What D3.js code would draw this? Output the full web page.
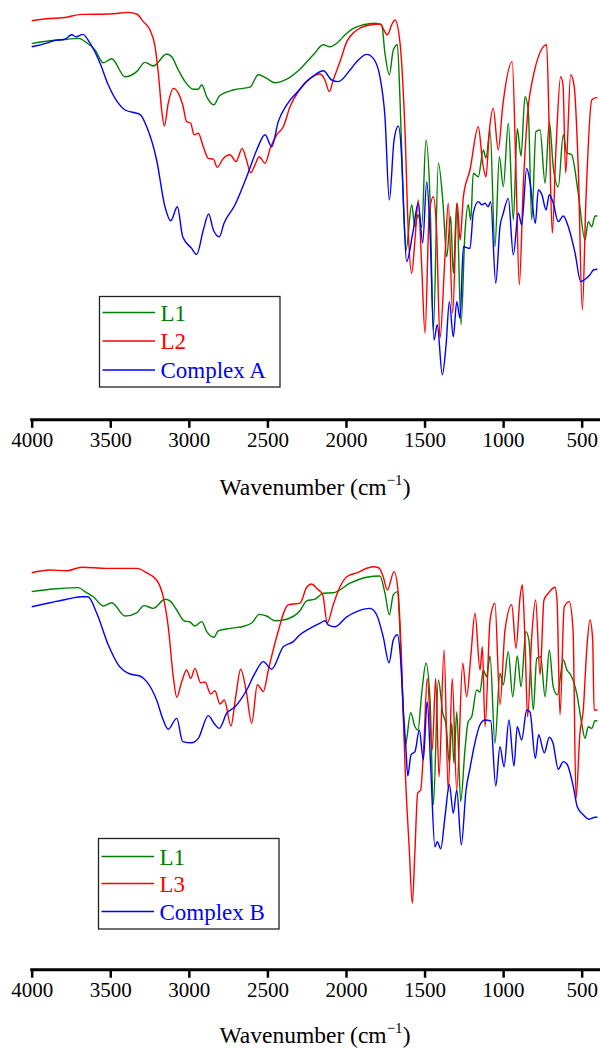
<!DOCTYPE html>
<html><head><meta charset="utf-8">
<script src="https://cdn.jsdelivr.net/npm/d3@7"></script>
<style>
html,body{margin:0;padding:0;background:#fff;}
svg{display:block;}
</style></head>
<body>
<svg id="chart" width="600" height="1049"></svg>
<script>
// ---------- DATA (wavenumber cm-1, transmittance %) ----------
const xTicks = [4000, 3500, 3000, 2500, 2000, 1500, 1000, 500];
const xLabel = "Wavenumber (cm";

const topLegend = ["L1", "L2", "Complex A"];
const bottomLegend = ["L1", "L3", "Complex B"];
const colors = ["#008000", "#ff0000", "#0000ff"];

// Top panel: L1
const topL1 = [[4000,91.6],[3884,92.3],[3777,92.7],[3703,92.9],[3650,91.8],[3597,90],[3544,86.8],[3491,87.8],[3406,83.3],[3332,84.6],[3279,86.9],[3226,86],[3141,89],[3109,88.3],[3067,85],[3024,82.1],[2972,80.2],[2940,80.2],[2918,81.3],[2886,78.3],[2840,76.3],[2806,78.5],[2717,80],[2611,80.7],[2558,83.8],[2504,82.9],[2452,81.8],[2377,82.7],[2293,85.2],[2208,88.8],[2144,91.3],[2102,90.8],[2059,91.7],[1995,94.2],[1953,95.4],[1890,96.3],[1815,96.7],[1773,96.3],[1752,89.2],[1724,83.8],[1699,90],[1673,91.3],[1656,77.5],[1635,52.5],[1618,40],[1582,51.3],[1561,45.8],[1542,48.8],[1518,45.8],[1491,67.5],[1465,52.5],[1444,20],[1412,61.7],[1381,50.8],[1359,38.3],[1334,48.3],[1317,34.2],[1295,51.7],[1268,21.3],[1243,44.2],[1222,51.3],[1206,47.5],[1190,59.2],[1158,58.3],[1126,65],[1109,63],[1083,70],[1052,40.8],[1024,63.3],[999,55.8],[967,71.7],[935,47.5],[910,70.4],[886,63.5],[861,78.3],[840,75],[818,47.5],[791,69.6],[765,70],[733,56.7],[706,72.1],[681,60.8],[649,55.8],[617,68.8],[595,64.3],[564,63.8],[522,54.2],[479,42.5],[458,47.1],[436,45.8],[415,48.5],[400,48.5]];
// Top panel: L2
const topL2 = [[4000,97.3],[3905,97.8],[3777,98.2],[3745,98.5],[3682,98.9],[3502,99],[3385,99.4],[3332,99],[3290,97.1],[3247,95],[3215,90.8],[3194,84.2],[3173,75],[3156,71],[3131,76.7],[3099,80.4],[3067,79.2],[3039,76.3],[3014,72.1],[2988,71.7],[2967,68.8],[2940,69.2],[2908,65.8],[2876,62.9],[2844,62.7],[2819,60.7],[2781,62.9],[2738,63.8],[2700,62.1],[2660,65.4],[2636,62.9],[2606,59.3],[2579,61.3],[2552,63.3],[2515,61.7],[2479,65.8],[2441,68.8],[2399,70.8],[2356,75.8],[2293,80.2],[2229,82.9],[2165,84],[2134,82.5],[2106,79.6],[2081,82.5],[2038,87.1],[1995,92.1],[1943,94.6],[1879,96],[1784,96.5],[1737,93.8],[1707,96.5],[1688,97.5],[1656,91.7],[1624,69.2],[1603,44.2],[1582,34.2],[1561,42.5],[1540,52.5],[1518,35.8],[1497,19.2],[1470,49.2],[1444,53.3],[1423,44.2],[1402,17.9],[1370,38.3],[1349,51.7],[1321,24.2],[1292,51.7],[1274,42.5],[1253,53.3],[1211,60],[1158,70.8],[1130,61.7],[1109,58.3],[1088,69.6],[1063,75.4],[1031,65],[1003,75.8],[942,87.1],[918,59.2],[897,31.3],[872,55.8],[829,79.2],[723,91.3],[706,69.2],[687,44.2],[664,65],[634,83.3],[619,81.3],[602,59.2],[570,83.8],[549,81.3],[522,60.8],[496,25],[473,52.5],[436,77.5],[409,78.1],[400,78.1]];
// Top panel: Complex A
const topCA = [[4000,90.8],[3905,91.7],[3863,92.3],[3788,92.7],[3745,93.8],[3718,93.3],[3675,93.9],[3629,91.7],[3565,86.7],[3513,81.3],[3449,76.7],[3406,75],[3311,73.9],[3268,70.8],[3205,62.5],[3152,50.8],[3115,47.3],[3073,50.8],[3039,43.3],[2982,40.4],[2950,38.9],[2908,45],[2874,49],[2844,45],[2806,43.3],[2776,46.7],[2706,51.3],[2632,58.3],[2568,65],[2515,68.8],[2473,65.8],[2431,72.1],[2377,76.3],[2293,80.2],[2250,82.1],[2197,83.8],[2144,84.8],[2091,82.5],[2049,82.1],[1974,85],[1922,87.5],[1868,88.9],[1826,87.9],[1784,83.3],[1752,73.3],[1724,52.5],[1694,67.5],[1667,71],[1645,62.5],[1631,48.3],[1614,37.1],[1575,44.2],[1540,51.7],[1512,41.8],[1486,57.1],[1465,44.2],[1440,17.5],[1419,21.3],[1387,8.8],[1363,16.3],[1342,27.1],[1317,18.3],[1295,27.1],[1274,22.9],[1253,40.8],[1211,40.4],[1190,49.2],[1158,52.1],[1134,51.3],[1115,51.7],[1096,50.8],[1079,52.1],[1047,31.7],[1020,45.8],[999,49.2],[967,52.9],[935,38.8],[903,49.2],[882,46.3],[850,60.4],[829,57],[795,46.7],[776,55],[753,53.8],[727,50],[706,53.8],[683,52],[649,47.1],[617,48.5],[585,45.8],[542,39.2],[506,32.1],[485,32.5],[447,33.8],[426,35],[400,35.2]];

// Bottom panel: L1
const botL1 = [[4000,92.1],[3884,92.7],[3703,93.1],[3661,92.1],[3608,90.8],[3544,88.5],[3491,89.3],[3406,86],[3332,86.8],[3285,88.6],[3226,87.9],[3152,90.2],[3120,89.8],[3077,87.5],[3031,84.8],[2993,84.5],[2961,83.5],[2918,84.6],[2886,82.1],[2840,80.7],[2813,82.3],[2738,82.9],[2643,83.5],[2598,84.3],[2552,86.4],[2505,86],[2452,84.8],[2377,85.2],[2293,87.3],[2250,89.8],[2197,90.2],[2144,91.7],[2081,91.8],[1974,94.2],[1868,95.7],[1784,96],[1752,91.7],[1724,86.3],[1699,91.3],[1673,92.1],[1656,81.7],[1639,65],[1624,53.3],[1588,61.8],[1561,58.3],[1542,57.5],[1518,66.7],[1491,74.2],[1465,65],[1444,38.8],[1412,70],[1384,61.7],[1363,58.8],[1342,49.2],[1327,59.2],[1313,49.2],[1295,62.1],[1270,39.6],[1243,52.5],[1222,59.6],[1200,60.8],[1168,67.5],[1147,67],[1126,72.5],[1105,70.8],[1083,76],[1052,54.2],[1020,71.7],[999,68.8],[967,77.1],[939,65.8],[910,76],[886,68.3],[855,82.1],[836,80],[808,62.5],[786,75.4],[761,75.8],[733,65.8],[706,77.5],[681,68.3],[655,66.3],[617,75],[594,72.5],[570,71.3],[532,66.7],[500,59.2],[479,55.4],[458,58.3],[436,57.9],[415,59.8],[400,59.8]];
// Bottom panel: L3
const botL3 = [[4000,96.8],[3884,97.5],[3777,97.3],[3682,98.2],[3523,97.9],[3332,97.9],[3268,96.8],[3205,95],[3163,90.8],[3131,83.3],[3099,70.8],[3077,65.7],[3045,69.6],[3014,72.5],[2988,70.4],[2961,72.9],[2925,69.3],[2897,69.5],[2861,66.5],[2834,67.3],[2802,64],[2774,65],[2732,58.5],[2702,65.8],[2670,72.7],[2636,67.5],[2600,59.2],[2564,68.8],[2526,67.1],[2494,72.5],[2441,80.8],[2367,88.8],[2293,89.2],[2250,93.2],[2218,94],[2186,92.9],[2148,91.3],[2119,84.3],[2081,88.8],[2038,93.3],[1995,95.8],[1932,96.8],[1826,98.3],[1790,98],[1763,95.8],[1737,92.5],[1694,97.1],[1667,91.7],[1645,73.3],[1624,48.3],[1597,27.5],[1578,14.2],[1561,27.5],[1544,41.7],[1525,42.5],[1504,54.2],[1483,70.4],[1451,52.5],[1429,70.4],[1408,45.8],[1376,77.5],[1349,42.1],[1324,70.4],[1295,42.5],[1257,74.2],[1232,65.8],[1206,75.8],[1179,86.7],[1147,72.5],[1132,78.3],[1115,58.3],[1083,85],[1052,89.2],[1020,63.8],[988,82.5],[945,88.8],[918,77.9],[893,90.4],[878,93.8],[861,80],[844,60.8],[818,80.8],[793,90],[765,71.3],[740,90],[712,91.7],[670,93.2],[657,90],[638,61.3],[611,88.3],[579,89.6],[555,82.5],[536,40.4],[511,56.8],[490,62.5],[468,77.5],[447,85],[430,80],[421,62.5],[400,62.5]];
// Bottom panel: Complex B
const botCB = [[4000,88.3],[3884,89.3],[3777,90.2],[3682,90.8],[3642,90.8],[3586,86.7],[3513,78.8],[3449,73.8],[3374,71.5],[3311,71],[3268,69.6],[3205,65],[3163,60],[3131,57.7],[3077,60.4],[3039,54.6],[2982,54.3],[2940,55.4],[2876,61.1],[2840,59.2],[2806,57.9],[2759,61.7],[2706,63.3],[2632,67.5],[2579,71.7],[2526,74.6],[2473,72.7],[2399,78.3],[2335,79.6],[2293,81.3],[2229,82.9],[2165,84.2],[2134,84.8],[2113,83.8],[2070,83.3],[1995,85.8],[1932,87.1],[1847,87.9],[1805,86.3],[1763,80.8],[1726,74.3],[1699,80],[1673,81.3],[1652,75],[1635,62.5],[1618,52.5],[1607,46],[1586,51.3],[1561,52.1],[1533,57.5],[1508,50],[1483,64.6],[1461,48.3],[1434,28.3],[1419,29.6],[1397,27.8],[1370,35.8],[1342,43.8],[1317,36.7],[1295,42.5],[1266,28.8],[1236,42.5],[1211,47.9],[1185,53.3],[1147,58.8],[1115,60],[1079,59.8],[1047,43.5],[1020,53.3],[994,48.3],[963,60],[931,48.5],[910,58.3],[882,55],[850,62.5],[829,62],[795,50.4],[774,56.3],[738,51.8],[706,55.7],[683,54.3],[649,47.7],[617,49.6],[594,49],[553,43.3],[528,38.3],[490,36.3],[452,35.2],[415,35.7],[400,35.7]];

// ---------- DRAWING ----------
const svg = d3.select("#chart");
const serif = "'Liberation Serif','Times New Roman',Times,serif";

const x = d3.scaleLinear().domain([4000, 400]).range([31.7, 597.4]);

const panels = [
  { series: [topL1, topL2, topCA], names: topLegend, yRange: [410, 10], axisY: 419.8, titleDy: 75, legend: { x: 99.5, y: 296.5, w: 180.5, h: 90.5, rows: [312.5, 341, 370] } },
  { series: [botL1, botL3, botCB], names: bottomLegend, yRange: [960, 560], axisY: 969.7, titleDy: 73, legend: { x: 98.5, y: 838.5, w: 180.5, h: 90.5, rows: [856.5, 883.5, 911.5] } }
];

panels.forEach(p => {
  const y = d3.scaleLinear().domain([0, 100]).range(p.yRange);
  const line = d3.line().x(d => x(d[0])).y(d => y(d[1])).curve(d3.curveMonotoneX);
  const g = svg.append("g");
  p.series.forEach((s, i) => {
    g.append("path").datum(s).attr("d", line)
      .attr("fill", "none").attr("stroke", colors[i]).attr("stroke-width", 1.4)
      .attr("stroke-linejoin", "round");
  });

  // axis
  const axis = d3.axisBottom(x).tickValues(xTicks).tickSize(8).tickSizeOuter(0).tickPadding(4).tickFormat(d3.format("d"));
  const ag = svg.append("g").attr("transform", `translate(0,${p.axisY})`).call(axis);
  ag.select(".domain").remove();
  ag.append("line").attr("x1", x(4000) - 1.5).attr("x2", 600).attr("y1", 0).attr("y2", 0)
    .attr("stroke", "#000").attr("stroke-width", 3);
  ag.selectAll(".tick line").attr("stroke", "#000").attr("stroke-width", 2.5);
  ag.selectAll(".tick text").attr("fill", "#000").style("font-family", serif).style("font-size", "21px");

  // axis title
  const t = svg.append("text").attr("x", 315).attr("y", p.axisY + p.titleDy)
    .attr("text-anchor", "middle").style("font-family", serif).style("font-size", "23.5px").attr("fill", "#000");
  t.append("tspan").text(xLabel);
  t.append("tspan").text("\u22121").attr("dy", -10).style("font-size", "15px");
  t.append("tspan").text(")").attr("dy", 10);

  // legend
  const L = p.legend;
  svg.append("rect").attr("x", L.x).attr("y", L.y).attr("width", L.w).attr("height", L.h)
    .attr("fill", "#fff").attr("stroke", "#222").attr("stroke-width", 1.3);
  p.names.forEach((n, i) => {
    svg.append("line").attr("x1", L.x + 3).attr("x2", L.x + 55.5).attr("y1", L.rows[i]).attr("y2", L.rows[i])
      .attr("stroke", colors[i]).attr("stroke-width", 1.4);
    svg.append("text").attr("x", L.x + 61).attr("y", L.rows[i] + 8)
      .style("font-family", serif).style("font-size", "23px").attr("fill", colors[i]).text(n);
  });
});
</script>
</body></html>
